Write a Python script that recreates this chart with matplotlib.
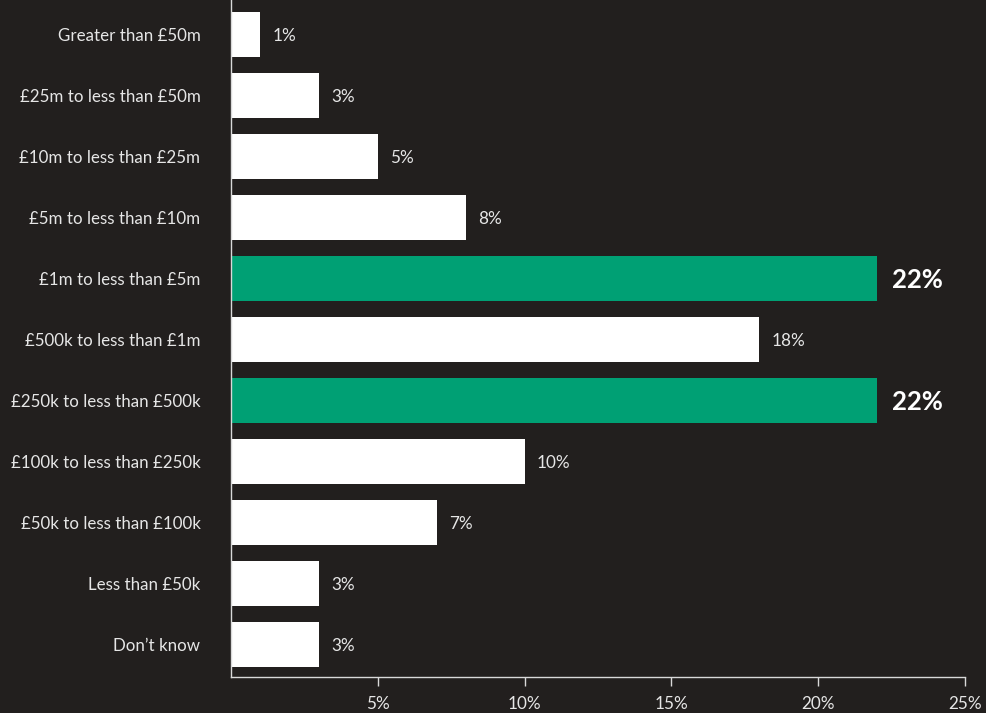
import matplotlib
matplotlib.use("Agg")
import matplotlib.pyplot as plt

categories = [
    "Greater than £50m",
    "£25m to less than £50m",
    "£10m to less than £25m",
    "£5m to less than £10m",
    "£1m to less than £5m",
    "£500k to less than £1m",
    "£250k to less than £500k",
    "£100k to less than £250k",
    "£50k to less than £100k",
    "Less than £50k",
    "Don’t know",
]
values = [1, 3, 5, 8, 22, 18, 22, 10, 7, 3, 3]
highlight = [False, False, False, False, True, False, True, False, False, False, False]
xticks = [5, 10, 15, 20, 25]
xtick_labels = ["5%", "10%", "15%", "20%", "25%"]

BG = "#221f1e"
GREEN = "#00a074"
WHITE = "#ffffff"
TEXT = "#e6e6e6"
SPINE = "#d9d9d9"

plt.rcParams["font.family"] = ["Lato", "DejaVu Sans"]

fig = plt.figure(figsize=(9.86, 7.13), dpi=100, facecolor=BG)
ax = fig.add_axes([231 / 986, 1 - 677 / 713, (965 - 231) / 986, 677 / 713])
ax.set_facecolor(BG)

ypos = list(range(len(categories)))
colors = [GREEN if h else WHITE for h in highlight]
ax.barh(ypos, values, height=0.74, color=colors, zorder=2)

for y, v, h in zip(ypos, values, highlight):
    if h:
        ax.text(v + 0.5, y + 0.02, f"{v}%", va="center", ha="left", color=WHITE,
                fontsize=18.5, fontweight="bold")
    else:
        ax.text(v + 0.42, y + 0.02, f"{v}%", va="center", ha="left", color=TEXT,
                fontsize=12.3)

ax.set_xlim(0, 25)
ax.set_ylim(len(categories) - 0.5 + 0.03, -0.565)

ax.set_yticks(ypos)
ax.set_yticklabels(categories, fontsize=12.2, color=TEXT)
ax.tick_params(axis="y", length=0, pad=22)

ax.set_xticks(xticks)
ax.set_xticklabels(xtick_labels, fontsize=12.3, color=TEXT)
ax.tick_params(axis="x", length=6.5, width=1, color=SPINE, pad=7)

for side in ("top", "right"):
    ax.spines[side].set_visible(False)
for side in ("left", "bottom"):
    ax.spines[side].set_color(SPINE)
    ax.spines[side].set_linewidth(1)

fig.savefig("out.png", dpi=100, facecolor=BG)
